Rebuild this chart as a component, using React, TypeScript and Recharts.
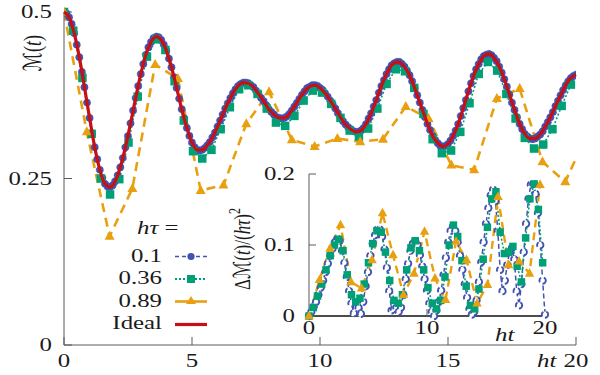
import React from 'react';
import { LineChart, Line, XAxis, YAxis } from 'recharts';

// ---------------- data ----------------
const BLUE_STEP = 0.1;
const GREEN_STEP = 0.36;
const ORANGE_STEP = 0.89;
const IDEAL_STEP = 0.2;
const INSET_BLUE_STEP = 0.2;

// M(t), h*tau = 0.1
const blueM = [
  0.500, 0.498, 0.492, 0.482, 0.468, 0.451, 0.432, 0.410, 0.387, 0.364,
  0.341, 0.318, 0.297, 0.279, 0.263, 0.251, 0.242, 0.238, 0.237, 0.240,
  0.246, 0.255, 0.267, 0.281, 0.297, 0.314, 0.333, 0.352, 0.371, 0.389,
  0.407, 0.422, 0.436, 0.447, 0.455, 0.461, 0.463, 0.462, 0.458, 0.451,
  0.442, 0.430, 0.417, 0.402, 0.386, 0.370, 0.354, 0.340, 0.326, 0.314,
  0.304, 0.297, 0.293, 0.292, 0.293, 0.296, 0.300, 0.305, 0.312, 0.319,
  0.328, 0.337, 0.346, 0.355, 0.363, 0.371, 0.378, 0.384, 0.389, 0.392,
  0.394, 0.394, 0.393, 0.390, 0.387, 0.382, 0.377, 0.371, 0.366, 0.360,
  0.354, 0.350, 0.346, 0.342, 0.341, 0.340, 0.341, 0.343, 0.347, 0.352,
  0.358, 0.364, 0.370, 0.376, 0.381, 0.386, 0.388, 0.390, 0.390, 0.389,
  0.386, 0.383, 0.378, 0.373, 0.367, 0.361, 0.355, 0.348, 0.342, 0.336,
  0.331, 0.327, 0.324, 0.321, 0.320, 0.320, 0.322, 0.326, 0.332, 0.340,
  0.348, 0.358, 0.368, 0.379, 0.389, 0.398, 0.407, 0.414, 0.420, 0.423,
  0.425, 0.425, 0.422, 0.418, 0.412, 0.405, 0.396, 0.386, 0.375, 0.364,
  0.353, 0.342, 0.332, 0.323, 0.314, 0.308, 0.303, 0.299, 0.298, 0.299,
  0.302, 0.307, 0.314, 0.322, 0.332, 0.344, 0.356, 0.368, 0.381, 0.393,
  0.404, 0.414, 0.422, 0.429, 0.434, 0.436, 0.437, 0.435, 0.431, 0.426,
  0.418, 0.409, 0.399, 0.388, 0.376, 0.364, 0.353, 0.342, 0.332, 0.324,
  0.317, 0.313, 0.310, 0.309, 0.310, 0.313, 0.316, 0.321, 0.328, 0.335,
  0.342, 0.350, 0.359, 0.367, 0.375, 0.383, 0.390, 0.396, 0.401, 0.404,
  0.406,
];

// M(t), h*tau = 0.36
const greenM = [
  0.500, 0.472, 0.401, 0.317, 0.250, 0.226, 0.249, 0.304, 0.373, 0.433,
  0.459, 0.443, 0.396, 0.337, 0.291, 0.280, 0.293, 0.324, 0.357, 0.384,
  0.390, 0.377, 0.355, 0.334, 0.329, 0.344, 0.367, 0.382, 0.379, 0.362,
  0.341, 0.322, 0.313, 0.325, 0.355, 0.392, 0.414, 0.411, 0.386, 0.347,
  0.309, 0.288, 0.292, 0.320, 0.363, 0.407, 0.425, 0.412, 0.377, 0.340,
  0.311, 0.295, 0.301, 0.324, 0.359, 0.391,
];

// M(t), h*tau = 0.89
const orangeM = [
  0.500, 0.320, 0.163, 0.235, 0.421, 0.400, 0.232, 0.240, 0.332, 0.380,
  0.308, 0.298, 0.310, 0.305, 0.309, 0.358, 0.340, 0.270, 0.263, 0.370,
  0.385, 0.275, 0.245, 0.320,
];

// Ideal M(t)
const idealM = [
  0.500, 0.492, 0.468, 0.432, 0.387,
  0.341, 0.297, 0.263, 0.242, 0.237,
  0.246, 0.267, 0.297, 0.333, 0.371,
  0.407, 0.436, 0.455, 0.463, 0.458,
  0.442, 0.417, 0.386, 0.354, 0.326,
  0.304, 0.293, 0.293, 0.300, 0.312,
  0.328, 0.346, 0.363, 0.378, 0.389,
  0.394, 0.393, 0.387, 0.377, 0.366,
  0.354, 0.346, 0.341, 0.341, 0.347,
  0.358, 0.370, 0.381, 0.388, 0.390,
  0.386, 0.378, 0.367, 0.355, 0.342,
  0.331, 0.324, 0.320, 0.322, 0.332,
  0.348, 0.368, 0.389, 0.407, 0.420,
  0.425, 0.422, 0.412, 0.396, 0.375,
  0.353, 0.332, 0.314, 0.303, 0.298,
  0.302, 0.314, 0.332, 0.356, 0.381,
  0.404, 0.422, 0.434, 0.437, 0.431,
  0.418, 0.399, 0.376, 0.353, 0.332,
  0.317, 0.310, 0.310, 0.316, 0.328,
  0.342, 0.359, 0.375, 0.390, 0.401,
  0.406,
];

// Inset: dM(t)/(h tau)^2
const blueD = [
  0.000, 0.006, 0.013, 0.020, 0.030, 0.040, 0.050, 0.062, 0.074, 0.085,
  0.095, 0.104, 0.109, 0.106, 0.092, 0.075, 0.055, 0.035, 0.018, 0.004,
  0.012, 0.012, 0.003, 0.020, 0.042, 0.062, 0.085, 0.102, 0.114, 0.122,
  0.122, 0.112, 0.094, 0.068, 0.035, 0.008, 0.010, 0.012, 0.006, 0.012,
  0.030, 0.052, 0.074, 0.092, 0.102, 0.106, 0.100, 0.086, 0.070, 0.052,
  0.036, 0.018, 0.006, 0.000, 0.008, 0.020, 0.036, 0.058, 0.082, 0.104,
  0.120, 0.126, 0.120, 0.104, 0.085, 0.065, 0.045, 0.026, 0.010, 0.002,
  0.006, 0.022, 0.048, 0.076, 0.104, 0.130, 0.152, 0.170, 0.178, 0.162,
  0.120, 0.065, 0.035, 0.050, 0.072, 0.090, 0.096, 0.080, 0.035, 0.015,
  0.045, 0.090, 0.130, 0.165, 0.185, 0.186, 0.172, 0.145, 0.100, 0.050,
  0.002,
];

const greenD = [
  0.000, 0.012, 0.028, 0.045, 0.065, 0.085, 0.100, 0.108, 0.092, 0.058,
  0.030, 0.020, 0.025, 0.045, 0.075, 0.102, 0.120, 0.118, 0.090, 0.050,
  0.022, 0.018, 0.030, 0.065, 0.096, 0.106, 0.092, 0.065, 0.040, 0.018,
  0.010, 0.022, 0.055, 0.100, 0.128, 0.112, 0.078, 0.042, 0.015, 0.010,
  0.038, 0.080, 0.125, 0.165, 0.175, 0.118, 0.088, 0.090, 0.098, 0.070,
  0.048, 0.110, 0.165, 0.186, 0.150, 0.075,
];

const orangeD = [
  0.000, 0.051, 0.095, 0.128, 0.048, 0.039, 0.079, 0.145, 0.086, 0.030,
  0.060, 0.119, 0.053, 0.023, 0.105, 0.079, 0.018, 0.044, 0.168, 0.072,
  0.077, 0.060, 0.185,
];

const mainXTicks = [0, 5, 10, 15, 20];
const mainYTicks = [0, 0.25, 0.5];
const insetXTicks = [0, 10, 20];
const insetYTicks = [0, 0.1, 0.2];
const legendLabels = ['0.1', '0.36', '0.89', 'Ideal'];

// ---------------- helpers ----------------
const toPts = (vals: number[], step: number) =>
  vals.map((v, i) => ({ t: Math.round(i * step * 1000) / 1000, v }));

const blueData = toPts(blueM, BLUE_STEP);
const greenData = toPts(greenM, GREEN_STEP);
const orangeData = toPts(orangeM, ORANGE_STEP);
const idealData = toPts(idealM, IDEAL_STEP);
const blueDData = toPts(blueD, INSET_BLUE_STEP);
const greenDData = toPts(greenD, GREEN_STEP);
const orangeDData = toPts(orangeD, ORANGE_STEP);

const C_BLUE = '#4152b0';
const C_GREEN = '#00a077';
const C_ORANGE = '#e8a010';
const C_RED = '#c80f14';
const C_FRAME = '#5a5a5a';
const C_TEXT = '#1a1a1a';
const SX = 1.38;
const FONT = "'Liberation Serif', 'DejaVu Serif', serif";
const FS = 18;

function SText(props: any) {
  const { x, y, anchor = 'start', size = FS, rotate = 0, children, family = FONT } = props;
  const tr = rotate
    ? `translate(${x},${y}) scale(${SX},1) rotate(${rotate})`
    : `translate(${x},${y}) scale(${SX},1)`;
  return (
    <text transform={tr} textAnchor={anchor} fontFamily={family} fontSize={size} fill={C_TEXT}>
      {children}
    </text>
  );
}

const XTick = (dy: number) => (p: any) => (
  <SText x={p.x} y={p.y + dy} anchor="middle">{String(p.payload.value)}</SText>
);
const YTick = (p: any) => (
  <SText x={p.x} y={p.y + 6} anchor="end">{String(p.payload.value)}</SText>
);

const makeSquare = (color: string, s: number) => (p: any) => {
  if (p.cx == null || p.cy == null) return <g key={`sq${p.index}`} />;
  return <rect key={`sq${p.index}`} x={p.cx - s / 2} y={p.cy - s / 2} width={s} height={s} fill={color} />;
};
const makeTri = (color: string, s: number) => (p: any) => {
  if (p.cx == null || p.cy == null) return <g key={`tr${p.index}`} />;
  const { cx, cy } = p;
  const h = s * 0.9;
  return (
    <path
      key={`tr${p.index}`}
      d={`M${cx},${cy - h * 0.62}L${cx + s / 2},${cy + h * 0.38}L${cx - s / 2},${cy + h * 0.38}Z`}
      fill={color}
    />
  );
};

export default function App() {
  return (
    <div style={{ position: 'absolute', left: 0, top: 0, width: 600, height: 375, background: '#fff' }}>
      {/* main chart */}
      <div style={{ position: 'absolute', left: 0, top: 0 }}>
        <LineChart width={600} height={375} margin={{ top: 12, right: 24, bottom: 0, left: 0 }}>
          <XAxis
            dataKey="t" type="number" domain={[0, 20]} allowDataOverflow ticks={mainXTicks} interval={0}
            height={30} tickSize={-8} tickMargin={16} stroke={C_FRAME} tick={XTick(14)}
          />
          <XAxis
            xAxisId="top" orientation="top" dataKey="t" type="number" domain={[0, 20]} ticks={mainXTicks}
            interval={0} height={0} tickSize={-8} stroke={C_FRAME} tick={false}
          />
          <YAxis
            type="number" domain={[0, 0.5]} ticks={mainYTicks} interval={0} width={64}
            tickSize={-8} tickMargin={20} stroke={C_FRAME} tick={YTick}
          />
          <YAxis
            yAxisId="right" orientation="right" type="number" domain={[0, 0.5]} ticks={mainYTicks}
            interval={0} width={0} tickSize={-8} stroke={C_FRAME} tick={false}
          />
          <Line
            data={blueData} dataKey="v" stroke={C_BLUE} strokeWidth={1.5} strokeDasharray="5 3"
            dot={{ r: 3.7, fill: C_BLUE, stroke: C_BLUE, strokeWidth: 0.4 }} activeDot={false}
            isAnimationActive={false}
          />
          <Line
            data={greenData} dataKey="v" stroke={C_GREEN} strokeWidth={1.6} strokeDasharray="2 2"
            dot={makeSquare(C_GREEN, 8.5)} activeDot={false} isAnimationActive={false}
          />
          <Line
            data={orangeData} dataKey="v" stroke={C_ORANGE} strokeWidth={2.6} strokeDasharray="9 6"
            dot={makeTri(C_ORANGE, 10)} activeDot={false} isAnimationActive={false}
          />
        </LineChart>
      </div>

      {/* ideal curve on top of all markers */}
      <div style={{ position: 'absolute', left: 0, top: 0 }}>
        <LineChart width={600} height={375} margin={{ top: 12, right: 24, bottom: 30, left: 64 }}>
          <XAxis dataKey="t" type="number" domain={[0, 20]} hide />
          <YAxis type="number" domain={[0, 0.5]} hide />
          <Line
            data={idealData} dataKey="v" type="monotone" stroke={C_RED} strokeWidth={3.2}
            dot={false} activeDot={false} isAnimationActive={false}
          />
        </LineChart>
      </div>

      {/* inset chart */}
      <div style={{ position: 'absolute', left: 245, top: 150 }}>
        <LineChart width={330} height={200} margin={{ top: 24, right: 30, bottom: 0, left: 0 }}>
          <XAxis
            dataKey="t" type="number" domain={[0, 20]} ticks={insetXTicks} interval={0}
            height={34} tickSize={-7} tickMargin={13} tick={XTick(12)}
            axisLine={{ stroke: '#111', strokeWidth: 1.6 }} tickLine={{ stroke: C_FRAME }}
          />
          <XAxis
            xAxisId="top" orientation="top" dataKey="t" type="number" domain={[0, 20]} ticks={insetXTicks}
            interval={0} height={0} tickSize={-7} stroke={C_FRAME} tick={false}
          />
          <YAxis
            type="number" domain={[0, 0.2]} ticks={insetYTicks} interval={0} width={64}
            tickSize={-7} tickMargin={21} stroke={C_FRAME} tick={YTick}
          />
          <YAxis
            yAxisId="right" orientation="right" type="number" domain={[0, 0.2]} ticks={insetYTicks}
            interval={0} width={0} tickSize={-7} stroke={C_FRAME} tick={false}
          />
          <Line
            data={blueDData} dataKey="v" stroke={C_BLUE} strokeWidth={1.5} strokeDasharray="5 3"
            dot={{ r: 3.2, fill: '#ffffff', stroke: C_BLUE, strokeWidth: 1.9 }} activeDot={false}
            isAnimationActive={false}
          />
          <Line
            data={greenDData} dataKey="v" stroke={C_GREEN} strokeWidth={1.6} strokeDasharray="2 2"
            dot={makeSquare(C_GREEN, 7.5)} activeDot={false} isAnimationActive={false}
          />
          <Line
            data={orangeDData} dataKey="v" stroke={C_ORANGE} strokeWidth={2.4} strokeDasharray="8 5"
            dot={makeTri(C_ORANGE, 9.5)} activeDot={false} isAnimationActive={false}
          />
        </LineChart>
      </div>

      {/* labels & legend */}
      <svg width={600} height={375} style={{ position: 'absolute', left: 0, top: 0, pointerEvents: 'none' }}>
        <SText x={41} y={53} anchor="middle" rotate={-90} size={18}>
          <tspan fontFamily="'DejaVu Sans'">ℳ</tspan>(<tspan fontStyle="italic">t</tspan>)
        </SText>
        <SText x={250} y={249} anchor="middle" rotate={-90} size={17}>
          Δ<tspan fontFamily="'DejaVu Sans'">ℳ</tspan>(<tspan fontStyle="italic">t</tspan>)/(<tspan fontStyle="italic">hτ</tspan>)
          <tspan dy={-7} fontSize={12}>2</tspan>
        </SText>
        <SText x={537} y={367}><tspan fontStyle="italic">ht</tspan></SText>
        <SText x={495} y={341}><tspan fontStyle="italic">ht</tspan></SText>

        <SText x={137} y={234}><tspan fontStyle="italic">hτ</tspan> =</SText>
        {legendLabels.map((lab, i) => (
          <SText key={lab} x={162} y={[262, 284, 307, 329][i]} anchor="end">{lab}</SText>
        ))}
        {/* legend samples */}
        <line x1={175} x2={207} y1={256.5} y2={256.5} stroke={C_BLUE} strokeWidth={1.6} strokeDasharray="4 3" />
        <circle cx={191} cy={256.5} r={3.6} fill={C_BLUE} />
        <line x1={175} x2={207} y1={279} y2={279} stroke={C_GREEN} strokeWidth={1.8} strokeDasharray="2 2" />
        <rect x={187} y={275} width={8} height={8} fill={C_GREEN} />
        <line x1={175} x2={207} y1={301.5} y2={301.5} stroke={C_ORANGE} strokeWidth={2.6} />
        <path d="M191,296L196,304L186,304Z" fill={C_ORANGE} />
        <line x1={175} x2={207} y1={324.5} y2={324.5} stroke={C_RED} strokeWidth={3.2} />
      </svg>
    </div>
  );
}
